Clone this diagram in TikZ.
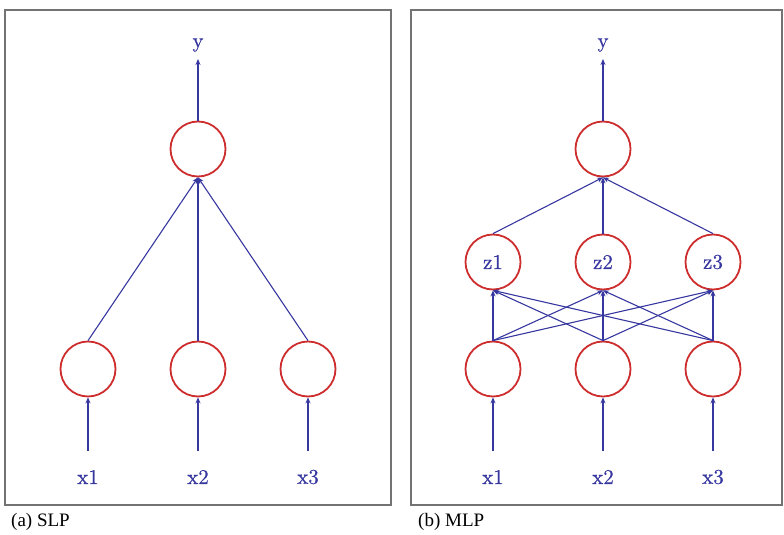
\documentclass[tikz,border=0pt]{standalone}
\usepackage{fontspec}
\newfontfamily\capfont{Liberation Serif}
\newfontfamily\lblfont{lmroman10-regular}[Extension=.otf,FakeBold=0.6]
\usetikzlibrary{arrows.meta}
\definecolor{nred}{RGB}{205,45,45}
\definecolor{nblue}{RGB}{55,55,160}
\definecolor{fgray}{RGB}{115,115,115}
\begin{document}
\begin{tikzpicture}[x=1pt,y=-1pt,
  neuron/.style={circle,draw=nred,line width=1.8pt,minimum size=55pt,inner sep=0pt,text=nblue,font=\lblfont\fontsize{21}{25}\selectfont},
  lbl/.style={text=nblue,inner sep=0pt,font=\lblfont\fontsize{21}{25}\selectfont},
  conn/.style={draw=nblue,line width=1.1pt,-{Stealth[length=6pt,width=5pt]}},
  frame/.style={draw=fgray,line width=1.5pt},
  captext/.style={anchor=west,inner sep=0pt,font=\capfont\fontsize{19}{22}\selectfont}]
\useasboundingbox (0,0) rectangle (784,535);
\draw[frame] (5,10) rectangle (391,505);
\draw[frame] (411,10) rectangle (782,505);
% (a) SLP
\node[neuron] (a1) at (88,369) {};
\node[neuron] (a2) at (198,369) {};
\node[neuron] (a3) at (308,369) {};
\node[neuron] (ao) at (198,149) {};
\node[lbl] (ax1) at (88,477) {x1};
\node[lbl] (ax2) at (198,477) {x2};
\node[lbl] (ax3) at (308,477) {x3};
\node[lbl] (ay) at (198,45) {y};
\foreach \i in {1,2,3}{
  \draw[conn,shorten <=19pt] (ax\i.north) -- (a\i);
  \draw[conn] (a\i.north) -- (ao.south);
}
\draw[conn,shorten >=14pt] (ao) -- (ay.center);
% (b) MLP
\node[neuron] (b1) at (493,369) {};
\node[neuron] (b2) at (603,369) {};
\node[neuron] (b3) at (713,369) {};
\node[neuron] (z1) at (493,262) {z1};
\node[neuron] (z2) at (603,262) {z2};
\node[neuron] (z3) at (713,262) {z3};
\node[neuron] (bo) at (603,149) {};
\node[lbl] (bx1) at (493,477) {x1};
\node[lbl] (bx2) at (603,477) {x2};
\node[lbl] (bx3) at (713,477) {x3};
\node[lbl] (by) at (603,45) {y};
\foreach \i in {1,2,3}{
  \draw[conn,shorten <=19pt] (bx\i.north) -- (b\i);
  \foreach \j in {1,2,3}{
    \draw[conn] (b\i.north) -- (z\j.south);
  }
  \draw[conn] (z\i.north) -- (bo.south);
}
\draw[conn,shorten >=14pt] (bo) -- (by.center);
\node[captext] (ca) at (11,522) {(a) SLP};
\node[captext] (cb) at (418,522) {(b) MLP};
\end{tikzpicture}
\end{document}
